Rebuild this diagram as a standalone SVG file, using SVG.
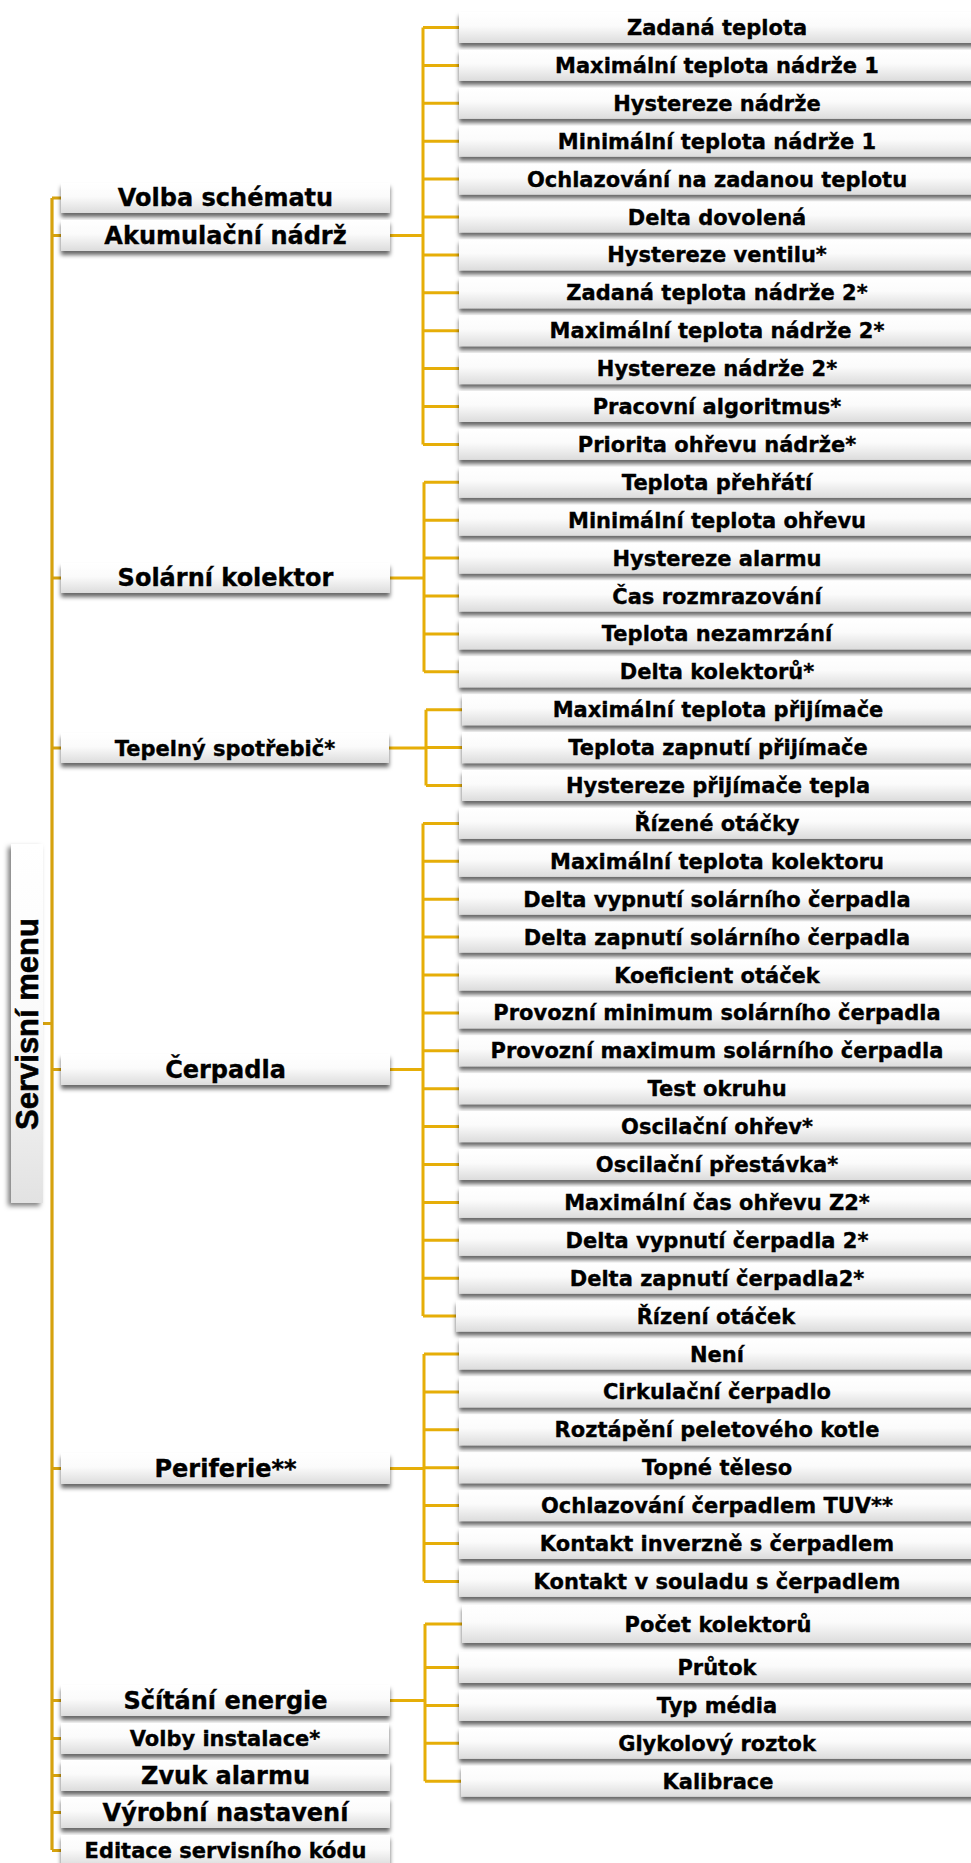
<svg xmlns="http://www.w3.org/2000/svg" width="971" height="1863" viewBox="0 0 971 1863">
<defs>
<linearGradient id="g" x1="0" y1="0" x2="0" y2="1">
<stop offset="0" stop-color="#ffffff"/>
<stop offset="0.45" stop-color="#fbfbfb"/>
<stop offset="1" stop-color="#dcdcdc"/>
</linearGradient>
<linearGradient id="gr" x1="0" y1="0" x2="0" y2="1">
<stop offset="0" stop-color="#ffffff"/>
<stop offset="0.5" stop-color="#fafafa"/>
<stop offset="1" stop-color="#e2e2e2"/>
</linearGradient>
<filter id="sh" x="-5%" y="-40%" width="110%" height="200%">
<feDropShadow dx="0" dy="4" stdDeviation="2" flood-color="#000" flood-opacity="0.6"/>
</filter>
<filter id="shr" x="-60%" y="-5%" width="220%" height="110%">
<feDropShadow dx="-3" dy="3" stdDeviation="2.5" flood-color="#000" flood-opacity="0.5"/>
</filter>
</defs>
<style>
.b{fill:url(#g);filter:url(#sh)}
.t{font-family:"DejaVu Sans",Verdana,sans-serif;font-weight:bold;text-anchor:middle;fill:#000;stroke:#000;stroke-width:0.35}
.l{font-size:21px}
.m{font-size:24px}
.c{fill:none;stroke:#E6AE08;stroke-width:3}
.tr{fill:none;stroke:#D6A20E;stroke-width:3.2}
</style>

<g id="connectors">
<path class="tr" d="M52 198 V1850"/>
<path class="tr" d="M43 1023.5 H52 M52 198 H61 M52 235.5 H61 M52 578 H61 M52 748 H61 M52 1069.5 H61 M52 1468.5 H61 M52 1700.5 H61 M52 1738.5 H61 M52 1775.5 H61 M52 1812.5 H61 M52 1850.5 H61"/>
<path class="c" d="M390 235.5 H423 M423 27.5 V444.4 M423 27.5 H459 M423 65.4 H459 M423 103.3 H459 M423 141.2 H459 M423 179.1 H459 M423 217 H459 M423 254.9 H459 M423 292.8 H459 M423 330.7 H459 M423 368.6 H459 M423 406.5 H459 M423 444.4 H459"/>
<path class="c" d="M390 578 H424 M424 482.3 V671.8 M424 482.3 H459 M424 520.2 H459 M424 558.1 H459 M424 596 H459 M424 633.9 H459 M424 671.8 H459"/>
<path class="c" d="M389 748 H426 M426 709.7 V785.5 M426 709.7 H462 M426 747.6 H462 M426 785.5 H462"/>
<path class="c" d="M390 1069.5 H423 M423 823.4 V1316.1 M423 823.4 H459 M423 861.3 H459 M423 899.2 H459 M423 937.1 H459 M423 975 H459 M423 1012.9 H459 M423 1050.8 H459 M423 1088.7 H459 M423 1126.6 H459 M423 1164.5 H459 M423 1202.4 H459 M423 1240.3 H459 M423 1278.2 H459 M423 1316.1 H456"/>
<path class="c" d="M390 1468.5 H424 M424 1354 V1581.4 M424 1354 H459 M424 1391.9 H459 M424 1429.8 H459 M424 1467.7 H459 M424 1505.6 H459 M424 1543.5 H459 M424 1581.4 H459"/>
<path class="c" d="M390 1700.5 H425 M425 1624 V1781.2 M425 1624 H462 M425 1667.5 H459 M425 1705.4 H459 M425 1743.3 H459 M425 1781.2 H461"/>
</g>

<g id="servisni-menu">
<rect x="11" y="844" width="32" height="359" fill="url(#gr)" filter="url(#shr)"/>
<text class="t" transform="translate(38 1024) rotate(-90)" style="font-family:'Liberation Sans',Arial,sans-serif;font-size:31px;stroke-width:0.6">Servisní menu</text>
</g>

<g id="volba-schematu"><rect class="b" x="61" y="183" width="329" height="30"/><text class="t m" x="225.5" y="206">Volba schématu</text></g>
<g id="akumulacni-nadrz"><rect class="b" x="61" y="220" width="329" height="31"/><text class="t m" x="225.5" y="243.5">Akumulační nádrž</text></g>
<g id="solarni-kolektor"><rect class="b" x="61" y="563" width="329" height="30"/><text class="t m" x="225.5" y="586">Solární kolektor</text></g>
<g id="tepelny-spotrebic"><rect class="b" x="61" y="733" width="328" height="30"/><text class="t l" x="225" y="755.5">Tepelný spotřebič*</text></g>
<g id="cerpadla"><rect class="b" x="61" y="1054" width="329" height="31"/><text class="t m" x="225.5" y="1077.5">Čerpadla</text></g>
<g id="periferie"><rect class="b" x="61" y="1453" width="329" height="31"/><text class="t m" x="225.5" y="1476.5">Periferie**</text></g>
<g id="scitani-energie"><rect class="b" x="61" y="1685" width="329" height="31"/><text class="t m" x="225.5" y="1708.5">Sčítání energie</text></g>
<g id="volby-instalace"><rect class="b" x="61" y="1723" width="328" height="31"/><text class="t l" x="225" y="1746">Volby instalace*</text></g>
<g id="zvuk-alarmu"><rect class="b" x="61" y="1760" width="329" height="31"/><text class="t m" x="225.5" y="1783.5">Zvuk alarmu</text></g>
<g id="vyrobni-nastaveni"><rect class="b" x="61" y="1797" width="329" height="31"/><text class="t m" x="225.5" y="1820.5">Výrobní nastavení</text></g>
<g id="editace-kodu"><rect class="b" x="61" y="1835" width="329" height="31"/><text class="t l" x="225.5" y="1858">Editace servisního kódu</text></g>

<g id="leaf-0"><rect class="b" x="459" y="12" width="520" height="31"/><text class="t l" x="717" y="35">Zadaná teplota</text></g>
<g id="leaf-1"><rect class="b" x="459" y="49.9" width="520" height="31"/><text class="t l" x="717" y="72.9">Maximální teplota nádrže 1</text></g>
<g id="leaf-2"><rect class="b" x="459" y="87.8" width="520" height="31"/><text class="t l" x="717" y="110.8">Hystereze nádrže</text></g>
<g id="leaf-3"><rect class="b" x="459" y="125.7" width="520" height="31"/><text class="t l" x="717" y="148.7">Minimální teplota nádrže 1</text></g>
<g id="leaf-4"><rect class="b" x="459" y="163.6" width="520" height="31"/><text class="t l" x="717" y="186.6">Ochlazování na zadanou teplotu</text></g>
<g id="leaf-5"><rect class="b" x="459" y="201.5" width="520" height="31"/><text class="t l" x="717" y="224.5">Delta dovolená</text></g>
<g id="leaf-6"><rect class="b" x="459" y="239.4" width="520" height="31"/><text class="t l" x="717" y="262.4">Hystereze ventilu*</text></g>
<g id="leaf-7"><rect class="b" x="459" y="277.3" width="520" height="31"/><text class="t l" x="717" y="300.3">Zadaná teplota nádrže 2*</text></g>
<g id="leaf-8"><rect class="b" x="459" y="315.2" width="520" height="31"/><text class="t l" x="717" y="338.2">Maximální teplota nádrže 2*</text></g>
<g id="leaf-9"><rect class="b" x="459" y="353.1" width="520" height="31"/><text class="t l" x="717" y="376.1">Hystereze nádrže 2*</text></g>
<g id="leaf-10"><rect class="b" x="459" y="391" width="520" height="31"/><text class="t l" x="717" y="414">Pracovní algoritmus*</text></g>
<g id="leaf-11"><rect class="b" x="459" y="428.9" width="520" height="31"/><text class="t l" x="717" y="451.9">Priorita ohřevu nádrže*</text></g>
<g id="leaf-12"><rect class="b" x="459" y="466.8" width="520" height="31"/><text class="t l" x="717" y="489.8">Teplota přehřátí</text></g>
<g id="leaf-13"><rect class="b" x="459" y="504.7" width="520" height="31"/><text class="t l" x="717" y="527.7">Minimální teplota ohřevu</text></g>
<g id="leaf-14"><rect class="b" x="459" y="542.6" width="520" height="31"/><text class="t l" x="717" y="565.6">Hystereze alarmu</text></g>
<g id="leaf-15"><rect class="b" x="459" y="580.5" width="520" height="31"/><text class="t l" x="717" y="603.5">Čas rozmrazování</text></g>
<g id="leaf-16"><rect class="b" x="459" y="618.4" width="520" height="31"/><text class="t l" x="717" y="641.4">Teplota nezamrzání</text></g>
<g id="leaf-17"><rect class="b" x="459" y="656.3" width="520" height="31"/><text class="t l" x="717" y="679.3">Delta kolektorů*</text></g>
<g id="leaf-18"><rect class="b" x="462" y="694.2" width="520" height="31"/><text class="t l" x="718" y="717.2">Maximální teplota přijímače</text></g>
<g id="leaf-19"><rect class="b" x="462" y="732.1" width="520" height="31"/><text class="t l" x="718" y="755.1">Teplota zapnutí přijímače</text></g>
<g id="leaf-20"><rect class="b" x="462" y="770" width="520" height="31"/><text class="t l" x="718" y="793">Hystereze přijímače tepla</text></g>
<g id="leaf-21"><rect class="b" x="459" y="807.9" width="520" height="31"/><text class="t l" x="717" y="830.9">Řízené otáčky</text></g>
<g id="leaf-22"><rect class="b" x="459" y="845.8" width="520" height="31"/><text class="t l" x="717" y="868.8">Maximální teplota kolektoru</text></g>
<g id="leaf-23"><rect class="b" x="459" y="883.7" width="520" height="31"/><text class="t l" x="717" y="906.7">Delta vypnutí solárního čerpadla</text></g>
<g id="leaf-24"><rect class="b" x="459" y="921.6" width="520" height="31"/><text class="t l" x="717" y="944.6">Delta zapnutí solárního čerpadla</text></g>
<g id="leaf-25"><rect class="b" x="459" y="959.5" width="520" height="31"/><text class="t l" x="717" y="982.5">Koeficient otáček</text></g>
<g id="leaf-26"><rect class="b" x="459" y="997.4" width="520" height="31"/><text class="t l" x="717" y="1020.4">Provozní minimum solárního čerpadla</text></g>
<g id="leaf-27"><rect class="b" x="459" y="1035.3" width="520" height="31"/><text class="t l" x="717" y="1058.3">Provozní maximum solárního čerpadla</text></g>
<g id="leaf-28"><rect class="b" x="459" y="1073.2" width="520" height="31"/><text class="t l" x="717" y="1096.2">Test okruhu</text></g>
<g id="leaf-29"><rect class="b" x="459" y="1111.1" width="520" height="31"/><text class="t l" x="717" y="1134.1">Oscilační ohřev*</text></g>
<g id="leaf-30"><rect class="b" x="459" y="1149" width="520" height="31"/><text class="t l" x="717" y="1172">Oscilační přestávka*</text></g>
<g id="leaf-31"><rect class="b" x="459" y="1186.9" width="520" height="31"/><text class="t l" x="717" y="1209.9">Maximální čas ohřevu Z2*</text></g>
<g id="leaf-32"><rect class="b" x="459" y="1224.8" width="520" height="31"/><text class="t l" x="717" y="1247.8">Delta vypnutí čerpadla 2*</text></g>
<g id="leaf-33"><rect class="b" x="459" y="1262.7" width="520" height="31"/><text class="t l" x="717" y="1285.7">Delta zapnutí čerpadla2*</text></g>
<g id="leaf-34"><rect class="b" x="456" y="1300.6" width="523" height="31"/><text class="t l" x="716" y="1323.6">Řízení otáček</text></g>
<g id="leaf-35"><rect class="b" x="459" y="1338.5" width="520" height="31"/><text class="t l" x="717" y="1361.5">Není</text></g>
<g id="leaf-36"><rect class="b" x="459" y="1376.4" width="520" height="31"/><text class="t l" x="717" y="1399.4">Cirkulační čerpadlo</text></g>
<g id="leaf-37"><rect class="b" x="459" y="1414.3" width="520" height="31"/><text class="t l" x="717" y="1437.3">Roztápění peletového kotle</text></g>
<g id="leaf-38"><rect class="b" x="459" y="1452.2" width="520" height="31"/><text class="t l" x="717" y="1475.2">Topné těleso</text></g>
<g id="leaf-39"><rect class="b" x="459" y="1490.1" width="520" height="31"/><text class="t l" x="717" y="1513.1">Ochlazování čerpadlem TUV**</text></g>
<g id="leaf-40"><rect class="b" x="459" y="1528" width="520" height="31"/><text class="t l" x="717" y="1551">Kontakt inverzně s čerpadlem</text></g>
<g id="leaf-41"><rect class="b" x="459" y="1565.9" width="520" height="31"/><text class="t l" x="717" y="1588.9">Kontakt v souladu s čerpadlem</text></g>
<g id="leaf-42"><rect class="b" x="462" y="1605" width="520" height="38"/><text class="t l" x="718" y="1631.5">Počet kolektorů</text></g>
<g id="leaf-43"><rect class="b" x="459" y="1652" width="520" height="31"/><text class="t l" x="717" y="1675">Průtok</text></g>
<g id="leaf-44"><rect class="b" x="459" y="1689.9" width="520" height="31"/><text class="t l" x="717" y="1712.9">Typ média</text></g>
<g id="leaf-45"><rect class="b" x="459" y="1727.8" width="520" height="31"/><text class="t l" x="717" y="1750.8">Glykolový roztok</text></g>
<g id="leaf-46"><rect class="b" x="461" y="1765.7" width="520" height="31"/><text class="t l" x="718" y="1788.7">Kalibrace</text></g>
</svg>
